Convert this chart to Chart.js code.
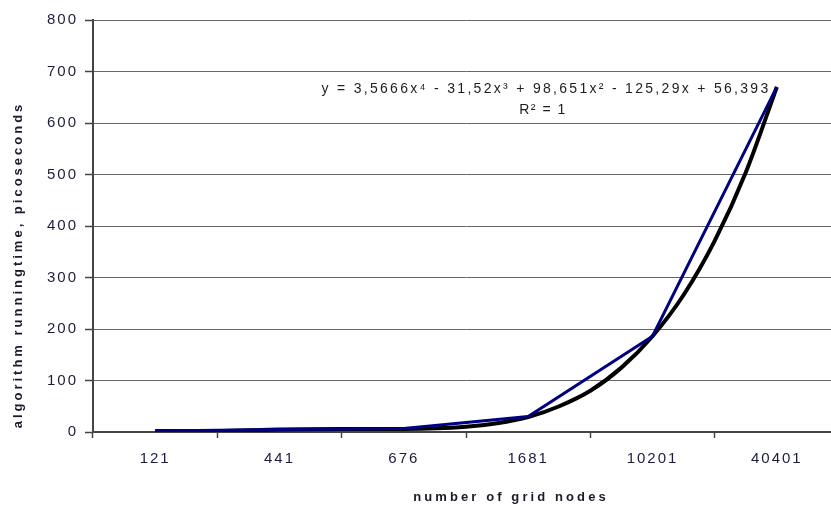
<!DOCTYPE html>
<html>
<head>
<meta charset="utf-8">
<script src="https://cdn.jsdelivr.net/npm/chart.js@4.4.1/dist/chart.umd.min.js"></script>
<style>
  html, body { margin: 0; padding: 0; background: #fff; overflow: hidden; }
  #clip { width: 831px; height: 509px; overflow: hidden; }
  /* plot area runs a little past the right edge in the original, so the canvas is wider than the page */
  #wrap { width: 839px; height: 509px; position: relative; }
</style>
</head>
<body>
<div id="clip"><div id="wrap"><canvas id="runtimeChart"></canvas></div></div>
<script>
// grid sizes on the x axis
const categories = ['121', '441', '676', '1681', '10201', '40401'];
// measured running time (blue line)
const runningTime = [2, 5, 7, 30, 186, 670];
// 4th order trend line (black) at these category positions
const trendX = [1, 1.5, 2, 2.5, 3, 3.5, 3.75, 4, 4.25, 4.5, 4.75, 5, 5.25, 5.5, 5.75, 6];
const trendY = [2, 2, 5, 6, 6, 10, 17, 29, 50, 80, 125, 186, 266, 371, 504, 670];
// y axis
const yMin = 0;
const yMax = 800;
const yStep = 100;

const equationText = 'y = 3,5666x\u2074 - 31,52x\u00b3 + 98,651x\u00b2 - 125,29x + 56,393';
const r2Text = 'R\u00b2 = 1';
const xTitle = 'number of grid nodes';
const yTitle = 'algorithm runningtime, picoseconds';

const fontFamily = '"Liberation Sans", Arial, sans-serif';

// draws the trend equation and the axis titles (they are a bit off center in the original)
const textPlugin = {
    id: 'textPlugin',
    beforeDraw(chart) {
        chart.ctx.letterSpacing = '2px';
    },
    afterDraw(chart) {
        const ctx = chart.ctx;
        ctx.save();
        ctx.fillStyle = '#1e1e1e';
        ctx.textAlign = 'center';
        ctx.textBaseline = 'middle';
        ctx.letterSpacing = '2.3px';
        ctx.font = '14px ' + fontFamily;
        ctx.fillText(equationText, 546, 89);
        ctx.letterSpacing = '1.5px';
        ctx.fillText(r2Text, 543, 110);

        ctx.fillStyle = '#1a1a2a';
        ctx.letterSpacing = '3.1px';
        ctx.font = 'bold 13px ' + fontFamily;
        ctx.fillText(xTitle, 511, 497);

        ctx.letterSpacing = '3px';
        ctx.translate(18, 265);
        ctx.rotate(-Math.PI / 2);
        ctx.fillText(yTitle, 0, 0);
        ctx.restore();
        ctx.letterSpacing = '0px';
    }
};

const ctx = document.getElementById('runtimeChart').getContext('2d');

new Chart(ctx, {
    type: 'line',
    data: {
        labels: categories,
        datasets: [
            {
                label: 'running time',
                data: runningTime,
                borderColor: '#000080',
                borderWidth: 3,
                pointRadius: 0,
                tension: 0,
                xAxisID: 'x'
            },
            {
                label: 'trend',
                data: trendX.map((x, i) => ({ x: x, y: trendY[i] })),
                borderColor: '#000000',
                borderWidth: 4,
                pointRadius: 0,
                cubicInterpolationMode: 'monotone',
                xAxisID: 'xTrend'
            }
        ]
    },
    options: {
        responsive: true,
        maintainAspectRatio: false,
        animation: false,
        layout: {
            padding: { top: 20, right: 0, left: 0, bottom: 0 }
        },
        plugins: {
            legend: { display: false },
            tooltip: { enabled: false }
        },
        scales: {
            x: {
                type: 'category',
                offset: true,
                afterFit: function(scale) { scale.height = 77; },
                grid: {
                    offset: true,
                    drawOnChartArea: false,
                    tickLength: 6,
                    tickColor: '#444',
                    tickWidth: 1.5
                },
                border: { color: '#444', width: 2 },
                ticks: {
                    color: '#1c1c3c',
                    padding: 12,
                    font: { family: fontFamily, size: 15 }
                }
            },
            xTrend: {
                type: 'linear',
                display: false,
                min: 0.5,
                max: 6.5
            },
            y: {
                min: yMin,
                max: yMax,
                afterFit: function(scale) { scale.width = 93; },
                grid: {
                    color: '#666',
                    lineWidth: 1,
                    borderDash: [3, 2],
                    tickLength: 8,
                    tickColor: '#444',
                    tickWidth: 1.5,
                    tickBorderDash: []
                },
                border: { color: '#444', width: 2 },
                ticks: {
                    stepSize: yStep,
                    color: '#1c1c3c',
                    padding: 7,
                    font: { family: fontFamily, size: 15 }
                }
            }
        }
    },
    plugins: [textPlugin]
});
</script>
</body>
</html>
